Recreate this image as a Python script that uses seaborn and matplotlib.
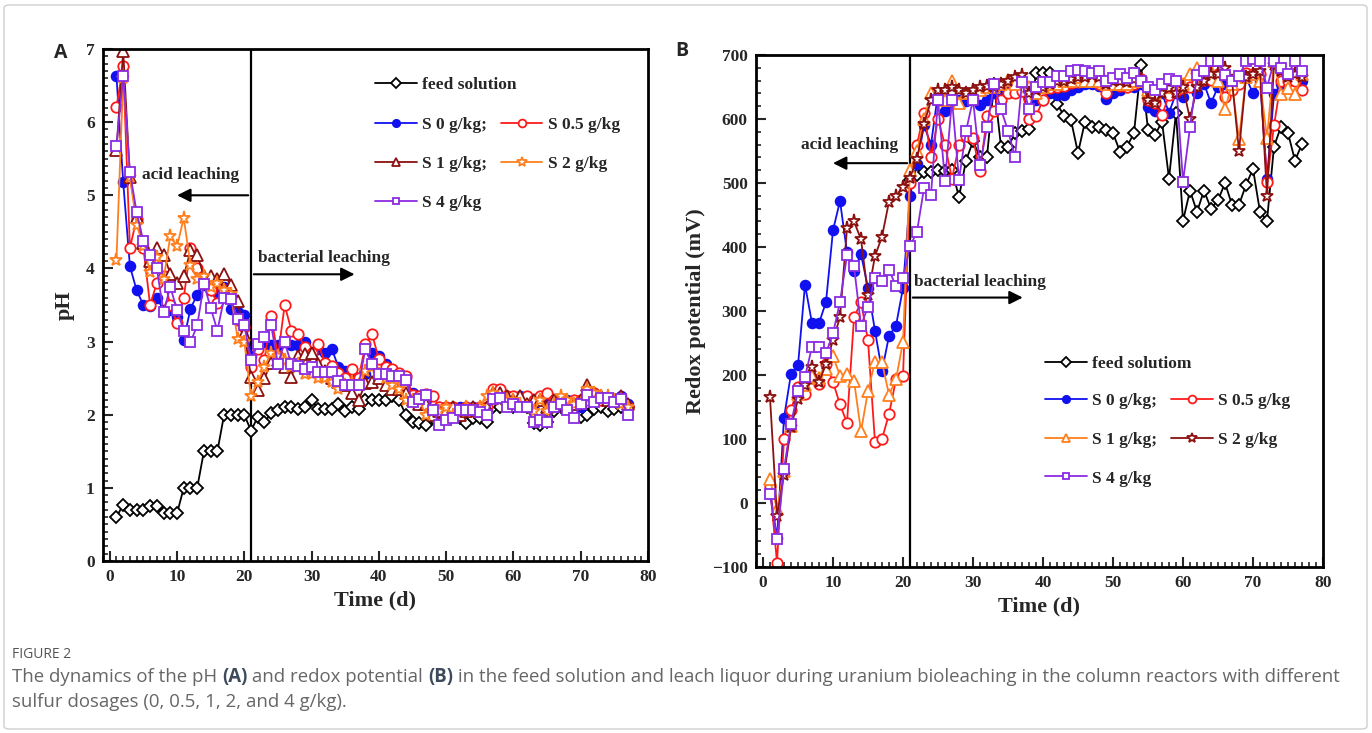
import matplotlib
matplotlib.use('Agg')
import matplotlib.pyplot as plt
from matplotlib.patches import FancyBboxPatch
from matplotlib.ticker import MultipleLocator
import seaborn as sns

# ---------------- dados ----------------
dias = list(range(1, 78))
dias_feed_b = list(range(21, 78))

# Painel A - pH
feed_ph = [0.6, 0.77, 0.7, 0.7, 0.7, 0.75, 0.75, 0.65, 0.65, 0.65,
           1.0, 1.0, 1.0, 1.5, 1.5, 1.5, 2.0, 2.0, 2.0, 2.0,
           1.78, 1.97, 1.9, 2.02, 2.07, 2.1, 2.1, 2.08, 2.1, 2.2,
           2.08, 2.08, 2.08, 2.15, 2.05, 2.1, 2.08, 2.2, 2.2, 2.2,
           2.2, 2.25, 2.2, 2.0, 1.9, 1.88, 1.86, 1.95, 1.95, 1.95,
           2.0, 1.95, 1.88, 1.95, 1.95, 1.9, 2.1, 2.1, 2.15, 2.1,
           2.15, 2.1, 1.88, 1.86, 1.9, 2.05, 2.1, 2.1, 2.05, 1.97,
           2.0, 2.08, 2.1, 2.05, 2.08, 2.1, 2.1]
s0_ph = [6.63, 5.18, 4.03, 3.7, 3.5, 3.48, 3.6, 3.43, 3.43, 3.33,
         3.02, 3.45, 3.64, 3.78, 3.7, 3.68, 3.75, 3.45, 3.4, 3.36,
         2.8, 2.95, 3.0, 2.95, 2.95, 3.0, 2.95, 2.95, 3.0, 2.85,
         2.9, 2.85, 2.9, 2.65, 2.6, 2.55, 2.5, 2.55, 2.85, 2.8,
         2.7, 2.6, 2.55, 2.5, 2.3, 2.25, 2.2, 2.0, 2.1, 2.05,
         2.05, 2.1, 2.05, 2.1, 2.05, 2.05, 2.3, 2.3, 2.25, 2.2,
         2.25, 2.2, 2.15, 2.2, 2.25, 2.2, 2.1, 2.2, 2.15, 2.1,
         2.3, 2.25, 2.2, 2.2, 2.2, 2.25, 2.15]
s05_ph = [6.21, 6.77, 4.28, 4.68, 4.28, 3.5, 3.8, 3.9, 3.5, 3.26,
          3.6, 4.28, 4.0, 3.8, 3.7, 3.53, 3.7, 3.6, 3.3, 3.2,
          2.65, 2.9, 2.75, 3.35, 2.8, 3.5, 3.15, 3.1, 2.92, 2.85,
          2.96, 2.71, 2.66, 2.57, 2.5, 2.62, 2.5, 2.96, 3.1, 2.76,
          2.65, 2.63, 2.57, 2.53, 2.27, 2.25, 2.28, 2.25, 2.11, 2.1,
          2.1, 2.05, 2.1, 2.05, 2.1, 2.1, 2.35, 2.35, 2.25, 2.25,
          2.2, 2.25, 2.2, 2.25, 2.3, 2.2, 2.2, 2.15, 2.2, 2.2,
          2.3, 2.3, 2.2, 2.2, 2.2, 2.2, 2.1]
s1_ph = [5.62, 6.97, 5.25, 4.7, 4.35, 4.1, 4.28, 4.19, 3.93, 3.8,
         3.89, 4.25, 4.19, 3.89, 3.9, 3.85, 3.93, 3.77, 3.55, 3.1,
         2.52, 2.34, 2.5, 2.71, 2.75, 2.65, 2.52, 2.8, 2.83, 2.85,
         2.7, 2.6, 2.5, 2.45, 2.4, 2.3, 2.2, 2.43, 2.45, 2.5,
         2.4, 2.35, 2.35, 2.3, 2.2, 2.15, 2.15, 2.0, 2.05, 2.05,
         2.1, 2.0, 2.05, 2.1, 2.05, 2.1, 2.3, 2.3, 2.25, 2.2,
         2.25, 2.15, 2.2, 2.2, 2.1, 2.2, 2.15, 2.1, 2.15, 2.2,
         2.4, 2.3, 2.25, 2.2, 2.2, 2.25, 2.15]
s2_ph = [4.12, 6.6, 5.25, 4.6, 4.3, 3.95, 4.15, 3.85, 4.44, 4.3,
         4.69, 4.05, 3.85, 3.9, 3.75, 3.8, 3.7, 3.65, 3.04, 3.0,
         2.25, 2.45, 2.65, 2.85, 2.8, 2.75, 2.65, 2.7, 2.55, 2.55,
         2.5, 2.5, 2.45, 2.35, 2.4, 2.45, 2.4, 2.6, 2.65, 2.55,
         2.5, 2.4, 2.35, 2.2, 2.2, 2.2, 2.0, 2.05, 2.05, 2.1,
         2.0, 2.05, 2.1, 2.05, 2.1, 2.25, 2.3, 2.2, 2.2, 2.2,
         2.15, 2.1, 2.05, 2.2, 2.05, 2.15, 2.25, 2.2, 2.15, 2.15,
         2.35, 2.3, 2.25, 2.25, 2.2, 2.15, 2.1]
s4_ph = [5.68, 6.63, 5.32, 4.77, 4.37, 4.19, 4.0, 3.4, 3.75, 3.43,
         3.15, 2.99, 3.22, 3.79, 3.46, 3.15, 3.59, 3.58, 3.31, 3.22,
         2.75, 2.96, 3.06, 3.22, 2.69, 2.99, 2.69, 2.67, 2.62, 2.65,
         2.58, 2.58, 2.58, 2.46, 2.4, 2.41, 2.41, 2.9, 2.69, 2.55,
         2.56, 2.53, 2.53, 2.48, 2.18, 2.22, 2.27, 2.07, 1.86, 1.93,
         1.95, 2.07, 2.07, 2.07, 2.04, 2.0, 2.22, 2.23, 2.11, 2.15,
         2.11, 2.11, 1.9, 1.93, 1.9, 2.11, 2.15, 2.07, 1.95, 2.15,
         2.27, 2.18, 2.23, 2.23, 2.18, 2.21, 2.0]

# Painel B - potencial redox (mV)
feed_mv = [505, 512, 517, 517, 520, 518, 520, 478, 535, 565,
           541, 541, 655, 557, 556, 578, 582, 584, 672, 672,
           672, 624, 605, 598, 547, 596, 588, 587, 583, 578,
           549, 557, 578, 685, 583, 575, 596, 507, 610, 441,
           488, 455, 488, 460, 473, 500, 466, 466, 497, 522,
           455, 441, 557, 588, 578, 535, 561]
s0_mv = [20, -55, 133, 202, 215, 341, 281, 281, 314, 426,
         472, 392, 363, 389, 336, 269, 206, 261, 277, 336,
         480, 530, 590, 560, 640, 613, 625, 630, 628, 630,
         622, 630, 640, 645, 645, 650, 650, 600, 630, 630,
         640, 638, 638, 645, 650, 655, 655, 652, 632, 641,
         645, 650, 650, 655, 618, 612, 640, 610, 640, 635,
         650, 640, 655, 625, 650, 655, 650, 660, 665, 640,
         660, 507, 639, 655, 660, 665, 660]
s05_mv = [27, -93, 100, 145, 182, 170, 196, 186, 217, 189,
          154, 125, 290, 314, 254, 95, 100, 139, 193, 198,
          500, 560, 610, 541, 600, 559, 507, 559, 574, 570,
          518, 604, 612, 630, 640, 640, 643, 600, 604, 630,
          649, 650, 651, 656, 658, 661, 660, 655, 640, 654,
          652, 650, 655, 662, 630, 625, 606, 637, 643, 649,
          650, 656, 661, 661, 670, 634, 646, 654, 672, 670,
          670, 502, 590, 659, 659, 659, 646]
s1_mv = [37, -10, 50, 120, 170, 185, 199, 195, 210, 229,
         199, 201, 191, 112, 175, 221, 220, 169, 193, 252,
         520, 550, 600, 640, 640, 630, 659, 625, 640, 640,
         645, 650, 650, 655, 661, 655, 660, 650, 640, 650,
         655, 655, 660, 660, 665, 660, 660, 660, 655, 655,
         655, 655, 660, 660, 645, 640, 650, 650, 650, 655,
         670, 680, 670, 675, 660, 615, 655, 568, 665, 670,
         660, 570, 690, 639, 649, 639, 670]
s2_mv = [165, -20, 44, 118, 162, 185, 212, 189, 217, 255,
         290, 429, 440, 412, 325, 386, 416, 471, 479, 494,
         508, 538, 592, 629, 645, 646, 650, 645, 640, 645,
         650, 652, 650, 655, 660, 665, 668, 640, 645, 650,
         655, 660, 660, 662, 665, 665, 668, 666, 655, 660,
         660, 658, 662, 663, 630, 625, 640, 648, 640, 650,
         600, 650, 660, 670, 670, 680, 660, 550, 665, 670,
         675, 480, 685, 675, 665, 670, 665]
s4_mv = [14, -57, 53, 124, 175, 197, 244, 244, 234, 265,
         314, 387, 370, 277, 307, 352, 347, 364, 339, 352,
         401, 424, 492, 481, 630, 503, 630, 505, 581, 630,
         528, 587, 654, 615, 582, 540, 658, 615, 650, 658,
         658, 667, 667, 675, 677, 675, 672, 675, 659, 664,
         670, 664, 672, 659, 650, 646, 654, 662, 659, 502,
         587, 669, 675, 690, 690, 669, 659, 667, 690, 693,
         691, 649, 690, 680, 670, 690, 675]

AZUL = '#1010f0'
VERMELHO = '#ff1a1a'
VINHO = '#8b1010'
LARANJA = '#ff7f1e'
ROXO = '#8a2be2'

sns.set_style('ticks')
plt.rcParams['font.family'] = ['Liberation Serif', 'DejaVu Serif']
plt.rcParams['font.weight'] = 'bold'

W, H = 1372, 733
fig = plt.figure(figsize=(W / 100, H / 100), dpi=100)


def caixa(l, t, r, b):
    return [l / W, 1 - b / H, (r - l) / W, (b - t) / H]


axA = fig.add_axes(caixa(103, 49, 648, 561))
axB = fig.add_axes(caixa(756, 55, 1323, 567))


def serie(ax, x, y, cor, marcador, tam, label, cheio=False):
    sns.lineplot(x=x, y=y, ax=ax, color=cor, marker=marcador, markersize=tam,
                 markerfacecolor=cor if cheio else 'white', markeredgecolor=cor,
                 markeredgewidth=1.3, linewidth=1.3, label=label, legend=False)
    return ax.lines[-1]


#Painel A
la = {}
la['feed'] = serie(axA, dias, feed_ph, 'black', 'D', 6.5, 'feed solution')
la['s0'] = serie(axA, dias, s0_ph, AZUL, 'o', 7, 'S 0 g/kg;', cheio=True)
la['s05'] = serie(axA, dias, s05_ph, VERMELHO, 'o', 7.5, 'S 0.5 g/kg')
la['s1'] = serie(axA, dias, s1_ph, VINHO, '^', 8, 'S 1 g/kg;')
la['s2'] = serie(axA, dias, s2_ph, LARANJA, '*', 9.5, 'S 2 g/kg')
la['s4'] = serie(axA, dias, s4_ph, ROXO, 's', 6.5, 'S 4 g/kg')

#Painel B
lb = {}
lb['feed'] = serie(axB, dias_feed_b, feed_mv, 'black', 'D', 6.5, 'feed solutiom')
lb['s0'] = serie(axB, dias, s0_mv, AZUL, 'o', 7, 'S 0 g/kg;', cheio=True)
lb['s05'] = serie(axB, dias, s05_mv, VERMELHO, 'o', 7.5, 'S 0.5 g/kg')
lb['s1'] = serie(axB, dias, s1_mv, LARANJA, '^', 8, 'S 1 g/kg;')
lb['s2'] = serie(axB, dias, s2_mv, VINHO, '*', 9.5, 'S 2 g/kg')
lb['s4'] = serie(axB, dias, s4_mv, ROXO, 's', 6.5, 'S 4 g/kg')

for ax in (axA, axB):
    ax.set_xlim(-1, 80)
    ax.xaxis.set_major_locator(MultipleLocator(10))
    ax.xaxis.set_minor_locator(MultipleLocator(1))
    ax.tick_params(which='both', direction='in', top=False, right=False,
                   labelsize=12.5, width=1.5, pad=6)
    ax.tick_params(which='major', length=7)
    ax.tick_params(which='minor', length=3.5, width=1.2)
    for s in ax.spines.values():
        s.set_linewidth(2)
        s.set_color('black')
    ax.set_xlabel('Time (d)', fontsize=16, fontweight='bold', labelpad=4)
    ax.axvline(21, color='black', lw=1.6, zorder=1)
    for t in ax.get_xticklabels() + ax.get_yticklabels():
        t.set_fontweight('bold')

axA.set_ylim(0, 7)
axA.yaxis.set_major_locator(MultipleLocator(1))
axA.yaxis.set_minor_locator(MultipleLocator(0.1))
axA.set_ylabel('pH', fontsize=16, fontweight='bold', labelpad=8)

axB.set_ylim(-100, 700)
axB.yaxis.set_major_locator(MultipleLocator(100))
axB.yaxis.set_minor_locator(MultipleLocator(20))
axB.set_ylabel('Redox potential (mV)', fontsize=16, fontweight='bold', labelpad=4)

# legendas
opts = dict(frameon=False, prop={'weight': 'bold', 'size': 12.5}, handlelength=2.4,
            handletextpad=0.3, borderpad=0, borderaxespad=0, markerscale=0.75,
            loc='upper left')


def legendas(ax, linhas, pos1, pos2):
    l1 = ax.legend(handles=[linhas['feed']], bbox_to_anchor=pos1, **opts)
    ax.add_artist(l1)
    ax.legend(handles=[linhas['s0'], linhas['s1'], linhas['s4'], linhas['s05'], linhas['s2']],
              ncol=2, labelspacing=1.3, columnspacing=0.8, bbox_to_anchor=pos2, **opts)


legendas(axA, la, (0.499, 0.945), (0.499, 0.867))
legendas(axB, lb, (0.51, 0.412), (0.51, 0.340))

# setas
seta = dict(arrowstyle='-|>', color='black', lw=1.5, mutation_scale=20)
axA.annotate('', xy=(9.6, 5.0), xytext=(21, 5.0), arrowprops=seta)
axA.text(12.0, 5.28, 'acid leaching', ha='center', va='center', fontsize=12.5, fontweight='bold')
axA.annotate('', xy=(36.8, 3.92), xytext=(21, 3.92), arrowprops=seta)
axA.text(22.1, 4.14, 'bacterial leaching', ha='left', va='center', fontsize=12.5, fontweight='bold')

axB.annotate('', xy=(9.6, 531), xytext=(21, 531), arrowprops=seta)
axB.text(12.3, 559, 'acid leaching', ha='center', va='center', fontsize=12.5, fontweight='bold')
axB.annotate('', xy=(37.5, 321), xytext=(21, 321), arrowprops=seta)
axB.text(21.6, 346, 'bacterial leaching', ha='left', va='center', fontsize=12.5, fontweight='bold')

# letras dos paineis
fig.text(54 / W, 1 - 53 / H, 'A', fontsize=14, fontweight='bold', family='Open Sans', va='center')
fig.text(675 / W, 1 - 51 / H, 'B', fontsize=14, fontweight='bold', family='Open Sans', va='center')

# moldura
fig.patches.append(FancyBboxPatch((4 / W, 4 / H), (1363 / W), (724 / H),
                                  boxstyle='round,pad=0,rounding_size=0.004',
                                  transform=fig.transFigure, fill=False,
                                  edgecolor='#cfcfcf', lw=1))

# legenda da figura (texto com partes em negrito)
fig.text(12 / W, 1 - 655 / H, 'FIGURE 2', fontsize=10, color='#555555', family='Open Sans',
         fontweight='normal', va='center')
render = fig.canvas.get_renderer()

linha1 = [('The dynamics of the pH ', False), ('(A)', True),
          (' and redox potential ', False), ('(B)', True),
          (' in the feed solution and leach liquor during uranium bioleaching in the column reactors with different', False)]
linha2 = [('sulfur dosages (0, 0.5, 1, 2, and 4 g/kg).', False)]


def linha_texto(x0, y, partes, tam):
    x = x0
    textos = []
    for txt, negrito in partes:
        t = fig.text(x / W, 1 - y / H, txt, fontsize=tam, family='Open Sans',
                     fontweight='bold' if negrito else 'normal',
                     color='#3d4a5c' if negrito else '#666666', va='center')
        textos.append(t)
        x = t.get_window_extent(render).x1
    return textos, x


# primeira passagem: mede, depois ajusta a fonte para ocupar a largura do original
tmp, fim = linha_texto(12, 677, linha1, 12)
for t in tmp:
    t.remove()
tam_fonte = 12 * 1323 / (fim - 12)
linha_texto(12, 677, linha1, tam_fonte)
linha_texto(12, 702, linha2, tam_fonte)

fig.savefig('out.png', dpi=100)
